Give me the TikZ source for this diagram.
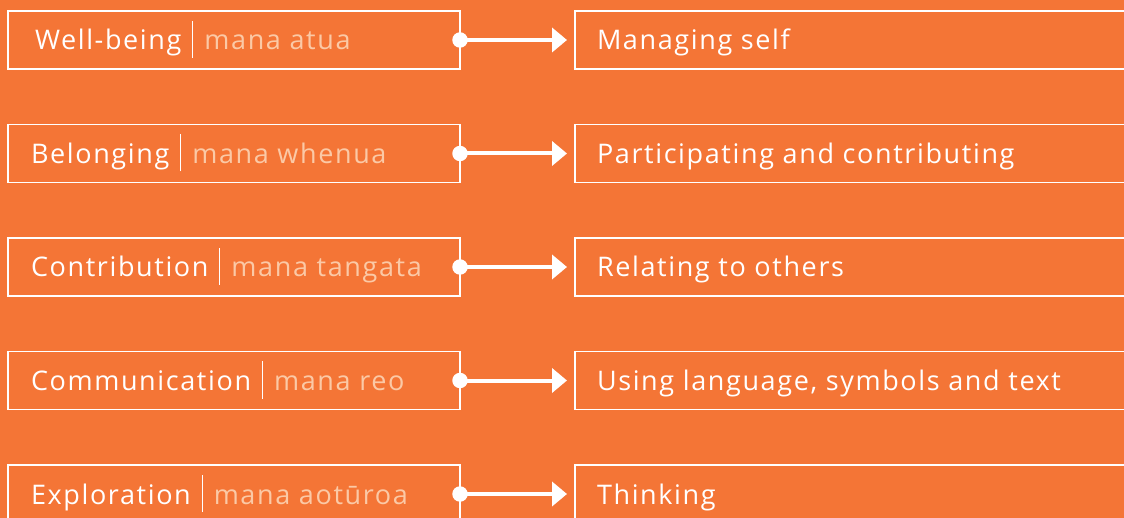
\documentclass[tikz,border=0pt]{standalone}
\usepackage{fontspec}
\setmainfont{Open Sans}
\newfontfamily\labelfont{Open Sans}[LetterSpace=6]
\usetikzlibrary{arrows.meta}
\definecolor{bg}{HTML}{F47536}
\definecolor{peach}{HTML}{FBC9A6}
% thin white rule between the English and Māori names
\newcommand{\namedivider}{\hspace{11pt}{\color{white}\rule[-8pt]{1pt}{37pt}}\hspace{11pt}}
\tikzset{
  framebox/.style={draw=white, line width=1.4pt, minimum height=58pt,
    inner sep=0pt, outer sep=0pt, anchor=west},
  leftbox/.style={framebox, minimum width=452pt},
  rightbox/.style={framebox, minimum width=600pt},
  label/.style={anchor=base west, inner sep=0pt, outer sep=0pt,
    font=\labelfont\fontsize{27}{30}\selectfont, text=white},
  joint/.style={circle, fill=white, inner sep=0pt, outer sep=0pt, minimum size=15.5pt},
  link/.style={white, line width=4pt, shorten >=8pt,
    -{Triangle[length=15pt,width=24pt]}}
}
\begin{document}
\begin{tikzpicture}[x=1pt, y=-1pt]
  \fill[bg] (0,0) rectangle (1124,518);
  \useasboundingbox (0,0) rectangle (1124,518);
  \foreach \i/\tx/\en/\mi/\out in {
      1/35/Well-being/mana atua/Managing self,
      2/31/Belonging/mana whenua/Participating and contributing,
      3/31/Contribution/mana tangata/Relating to others,
      4/31/Communication/mana reo/{Using language, symbols and text},
      5/31/Exploration/mana aotūroa/Thinking} {
    \pgfmathsetmacro{\yc}{40+113.5*(\i-1)}
    \node[leftbox] (L\i) at (8,\yc) {};
    \node[rightbox] (R\i) at (575,\yc) {};
    \node[label] (T\i) at (\tx,\yc+10) {\en\namedivider\textcolor{peach}{\mi}};
    \node[label] (O\i) at (597,\yc+10) {\out};
    \node[joint] (D\i) at (L\i.east) {};
    \draw[link] (D\i.center) -- (R\i.west);
  }
\end{tikzpicture}
\end{document}
